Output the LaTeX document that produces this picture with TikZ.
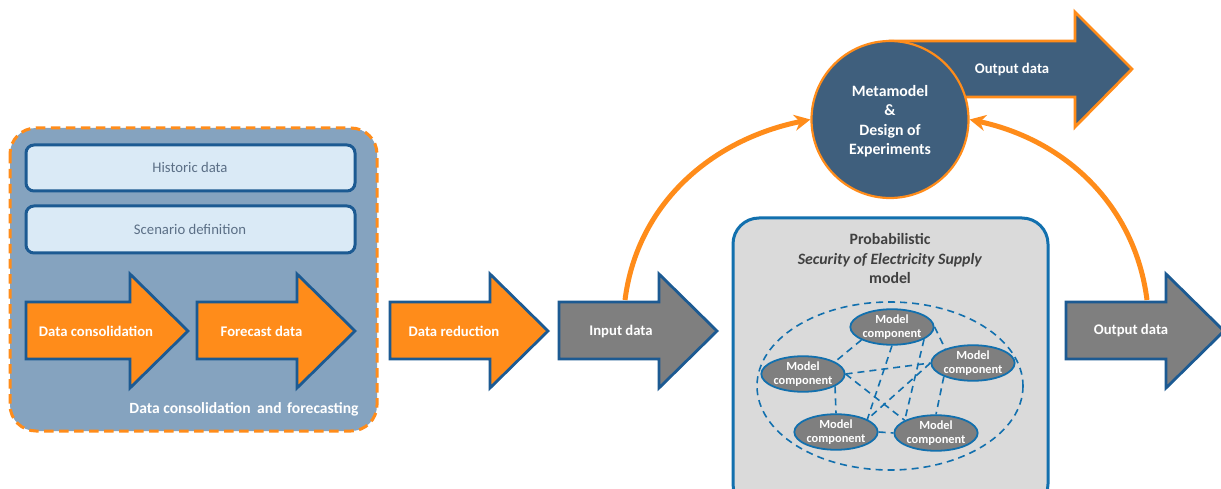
\documentclass[tikz,border=0pt]{standalone}
\usepackage{fontspec}
\setmainfont{Carlito}
\usetikzlibrary{arrows.meta,shapes.geometric}
\definecolor{panelblue}{HTML}{85A3BF}
\definecolor{lightbox}{HTML}{DAEAF6}
\definecolor{navy}{HTML}{1C5A92}
\definecolor{midblue}{HTML}{1270AE}
\definecolor{orangeA}{HTML}{FF8C1A}
\definecolor{greyA}{HTML}{7F7F7F}
\definecolor{slate}{HTML}{3F5F7D}
\definecolor{panelgrey}{HTML}{DADADA}
\definecolor{softtext}{HTML}{5B6F86}
\definecolor{darktext}{HTML}{404040}
\tikzset{
  whitebold/.style={text=white,font=\fontsize{14.7}{17}\selectfont\bfseries,inner sep=0pt},
  infobox/.style={draw=navy,line width=3pt,fill=lightbox,rounded corners=8pt},
  infotext/.style={text=softtext,font=\fontsize{14.7}{17}\selectfont,inner sep=0pt},
  orangearrow/.style={draw=navy,line width=2.8pt,fill=orangeA,miter limit=10},
  greyarrow/.style={draw=navy,line width=2.8pt,fill=greyA,miter limit=10},
  slatearrow/.style={draw=orangeA,line width=2.8pt,fill=slate,miter limit=10},
  feedback/.style={draw=orangeA,line width=5pt,-{Stealth[length=16pt,width=16pt]}},
  component/.style={ellipse,draw=midblue,line width=1.8pt,fill=greyA,minimum width=83pt,minimum height=31pt,inner sep=0pt,align=center,text=white,font=\fontsize{12.4}{14.5}\selectfont\bfseries},
  complink/.style={draw=midblue,line width=1.6pt,dash pattern=on 7pt off 5pt},
}
% #1 style, #2 left x, #3 head x, #4 tip x
\newcommand{\blockarrow}[4]{\draw[#1] (#2,302)--(#3,302)--(#3,274)--(#4,331)--(#3,388)--(#3,359)--(#2,359)--cycle;}
\begin{document}
\begin{tikzpicture}[x=1pt,y=-1pt]
\useasboundingbox (0,0) rectangle (1221,489);
\clip (0,0) rectangle (1221,489);
\fill[white] (0,0) rectangle (1221,489);
% left panel
\draw[fill=panelblue,draw=orangeA,line width=3pt,dash pattern=on 9.5pt off 5.5pt,rounded corners=26pt] (10,128) rectangle (377,431);
\draw[infobox] (26,145) rectangle (355,191);
\node[infotext] (hist) at (190,167) {Historic data};
\draw[infobox] (26,206) rectangle (355,253);
\node[infotext] (scen) at (190,229) {Scenario definition};
\blockarrow{orangearrow}{26}{130}{188}
\node[whitebold] (cons) at (96,331) {Data consolidation};
\blockarrow{orangearrow}{197}{297}{355}
\node[whitebold] (fore) at (261.5,331) {Forecast data};
\node[whitebold,font=\fontsize{15.6}{17}\selectfont\bfseries] (dcf) at (244,409) {Data consolidation\hspace{3pt} and\hspace{2pt} forecasting};
% chain
\blockarrow{orangearrow}{390}{490}{548}
\node[whitebold] (red) at (454,331) {Data reduction};
\blockarrow{greyarrow}{559}{659}{717}
\node[whitebold] (inp) at (621,331) {Input data};
\blockarrow{greyarrow}{1066}{1166}{1224}
\node[whitebold] (outp) at (1131,330) {Output data};
\coordinate (inptop) at (625,300);
\coordinate (outtop) at (1147,300);
% output arrow and metamodel
\draw[slatearrow] (890,41)--(1075,41)--(1075,12)--(1132,69)--(1075,127)--(1075,97)--(890,97)--cycle;
\node[circle,draw=orangeA,line width=2.2pt,fill=slate,minimum size=157pt,inner sep=0pt] (meta) at (890,119.5) {};
\node[inner sep=0pt,align=center,text=white,font=\fontsize{15.8}{19.5}\selectfont\bfseries] (metatext) at (890,121) {Metamodel\\\&\\Design of\\Experiments};
\node[whitebold] (out2) at (1012,70) {Output data};
\draw[feedback] (inptop) .. controls (637,205) and (710,140) .. (meta.west);
\draw[feedback] (outtop) .. controls (1135,205) and (1065,140) .. (meta.east);
% model panel
\draw[draw=midblue,line width=3pt,fill=panelgrey,rounded corners=26pt] (733,218) rectangle (1048,510);
\node[inner sep=0pt,align=center,text=darktext,font=\fontsize{15.8}{19.5}\selectfont] (title) at (890,259) {\textbf{Probabilistic}\\\textbf{\itshape Security of Electricity Supply}\\\textbf{model}};
\draw[complink] (890,386) ellipse [x radius=133,y radius=84];
\node[component] (a) at (892,327) {Model\\component};
\node[component] (b) at (973,363) {Model\\component};
\node[component] (c) at (803,374) {Model\\component};
\node[component] (d) at (836,432) {Model\\component};
\node[component] (e) at (936,433) {Model\\component};
\draw[complink] (a.203) -- (c.21);
\draw[complink] (a.270) -- (d.22);
\draw[complink] (a.-21) -- (e.158);
\draw[complink] (a.east) -- (b.153);
\draw[complink] (c.east) -- (b.west);
\draw[complink] (c.east) -- (e.158);
\draw[complink] (c.-21) -- (d.90);
\draw[complink] (b.west) -- (d.22);
\draw[complink] (b.-155) -- (e.90);
\draw[complink] (d.east) -- (e.west);
\end{tikzpicture}
\end{document}
